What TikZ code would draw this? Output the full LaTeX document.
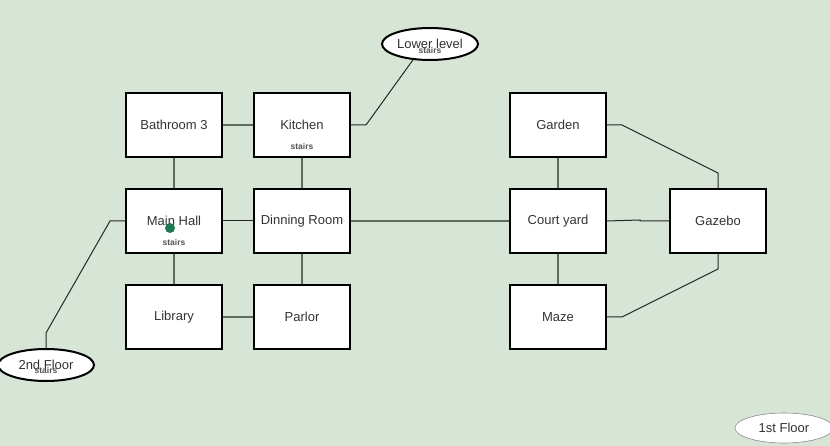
\documentclass[tikz,border=0pt]{standalone}
\usepackage{fontspec}
\setmainfont{Liberation Sans}
\usetikzlibrary{shapes.geometric}
\definecolor{bg}{HTML}{D6E5D6}
\definecolor{link}{HTML}{5E6E5E}
\definecolor{txt}{HTML}{333333}
\definecolor{dot}{HTML}{1B7A52}
\begin{document}
\begin{tikzpicture}[x=1pt,y=-1pt,
  room/.style={draw=black,line width=2pt,fill=white,minimum width=96pt,minimum height=64pt,
    inner sep=0pt,text=txt,font=\fontsize{13}{15}\selectfont},
  level/.style={ellipse,draw=black,line width=2pt,fill=white,minimum width=96pt,minimum height=32pt,
    inner sep=0pt,text=txt,font=\fontsize{13}{15}\selectfont},
  note/.style={text=txt!85,font=\bfseries\fontsize{8.5}{10}\selectfont,inner sep=0pt},
  wall/.style={link,line width=2pt},
  thin/.style={black!85,line width=1pt},
  thingray/.style={link,line width=1.2pt}]
\fill[bg] (0,0) rectangle (830,446);
\useasboundingbox (0,0) rectangle (830,446);
% rooms, west wing
\node[room] (bath) at (174,125) {Bathroom 3};
\node[room] (kitchen) at (302,125) {Kitchen};
\node[room] (hall) at (174,221) {Main Hall};
\node[room] (dining) at (302,221) {Dinning Room};
\node[room] (library) at (174,317) {Library};
\node[room] (parlor) at (302,317) {Parlor};
% rooms, east wing
\node[room] (garden) at (558,125) {Garden};
\node[room] (court) at (558,221) {Court yard};
\node[room] (maze) at (558,317) {Maze};
\node[room] (gazebo) at (718,221) {Gazebo};
% floors
\node[level] (lower) at (430,44) {Lower level};
\node[level] (second) at (46,365) {2nd Floor};
\node[ellipse,draw=black!45,line width=0.6pt,fill=white,minimum width=98pt,minimum height=30pt,
  inner sep=0pt,text=txt,font=\fontsize{13}{15}\selectfont] (first) at (784,428) {1st Floor};
% stair notes
\node[note] (kst) at (302,146) {stairs};
\node[note] (hst) at (174,242) {stairs};
\node[note] (lst) at (430,50) {stairs};
\node[note] (sst) at (46,370) {stairs};
\fill[dot] (170,228) circle (5pt);
% doors between rooms
\draw[wall] (bath.east) -- (kitchen.west);
\draw[wall] (library.east) -- (parlor.west);
\draw[wall] (bath.south) -- (hall.north);
\draw[wall] (hall.south) -- (library.north);
\draw[wall] (kitchen.south) -- (dining.north);
\draw[wall] (dining.south) -- (parlor.north);
\draw[wall] (garden.south) -- (court.north);
\draw[wall] (court.south) -- (maze.north);
\draw[thin] (hall.east) -- (dining.west);
\draw[thingray] (dining.east) -- (court.west);
\coordinate (cg) at (640,220);
\draw[thin] (court.east) -- (cg) -- (640,221) -- (gazebo.west);
% outdoor paths
\coordinate (g1) at (622,125);
\coordinate (g2) at (718,173);
\draw[thin] (garden.east) -- (g1) -- (g2) -- (gazebo.north);
\coordinate (m1) at (622,317);
\coordinate (m2) at (718,269);
\draw[thin] (maze.east) -- (m1) -- (m2) -- (gazebo.south);
% stairways
\coordinate (k1) at (366,125);
\draw[thin] (kitchen.east) -- (k1) -- (lower.223);
\coordinate (h1) at (110,221);
\coordinate (h2) at (46,333);
\draw[thin] (hall.west) -- (h1) -- (h2) -- (second.north);
\end{tikzpicture}
\end{document}
